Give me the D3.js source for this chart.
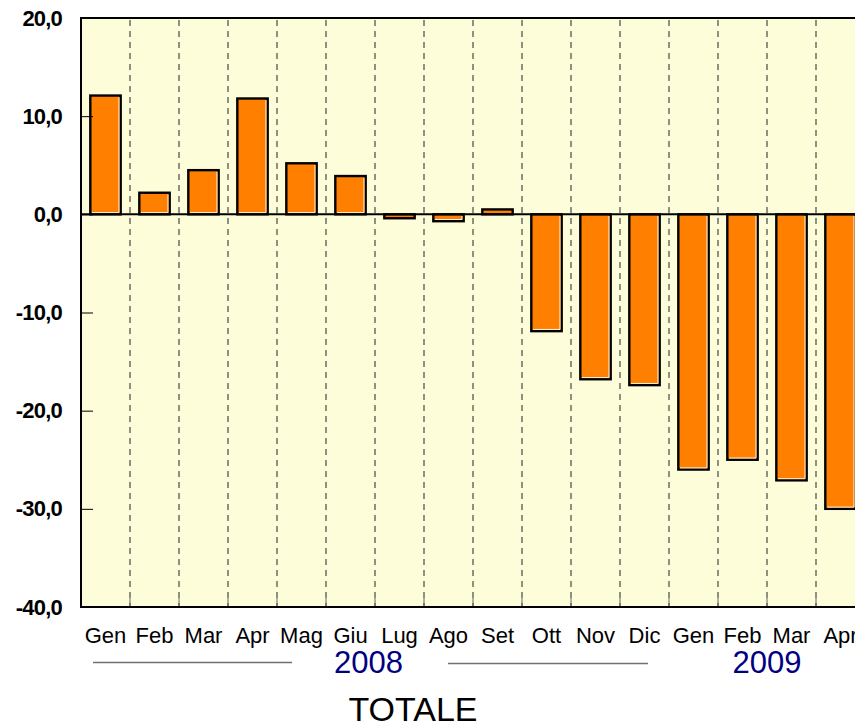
<!DOCTYPE html>
<html>
<head>
<meta charset="utf-8">
<script src="https://cdnjs.cloudflare.com/ajax/libs/d3/7.8.5/d3.min.js"></script>
<style>
  body { margin: 0; background: #fff; }
  svg { display: block; font-family: "Liberation Sans", Arial, sans-serif; }
</style>
</head>
<body>
<svg id="chart" width="855" height="727"></svg>
<script>
"use strict";

// month labels, 2008 then 2009
var months = ['Gen', 'Feb', 'Mar', 'Apr', 'Mag', 'Giu', 'Lug', 'Ago', 'Set', 'Ott', 'Nov', 'Dic',
              'Gen', 'Feb', 'Mar', 'Apr'];
var values = [12.1, 2.2, 4.5, 11.8, 5.2, 3.9, -0.4, -0.7, 0.5, -11.9, -16.8, -17.4,
              -26.0, -25.0, -27.1, -30.0];
var years = [ { label: '2008', first: 0, last: 11 }, { label: '2009', first: 12, last: 15 } ];
var yTicks = [20, 10, 0, -10, -20, -30, -40];

(function() {

var svg = d3.select('#chart');

var plotLeft = 81, plotTop = 18, plotBottom = 607;
var step = 49;

var x = d3.scaleBand()
    .domain(d3.range(months.length))
    .range([plotLeft, plotLeft + step * months.length])
    .paddingInner(0.38)
    .paddingOuter(0.19);

var y = d3.scaleLinear().domain([-40, 20]).range([plotBottom, plotTop]);

// plot background
svg.append('rect')
    .attr('x', plotLeft).attr('y', plotTop)
    .attr('width', 855 - plotLeft + 5).attr('height', plotBottom - plotTop)
    .attr('fill', '#fefdd9');

// dashed separators between months
var bounds = d3.range(1, months.length).map(function(i) { return plotLeft + step * i; });

svg.append('g').selectAll('line')
    .data(bounds)
    .enter().append('line')
        .attr('x1', function(d) { return d; })
        .attr('x2', function(d) { return d; })
        .attr('y1', plotTop + 2)
        .attr('y2', plotBottom)
        .attr('stroke', '#75756a')
        .attr('stroke-width', 1.6)
        .attr('stroke-dasharray', '6,5');

svg.append('g').selectAll('line')
    .data(bounds)
    .enter().append('line')
        .attr('x1', function(d) { return d; })
        .attr('x2', function(d) { return d; })
        .attr('y1', plotBottom - 9)
        .attr('y2', plotBottom)
        .attr('stroke', '#666')
        .attr('stroke-width', 1);

// bars
var bars = svg.append('g').selectAll('g.bar')
    .data(values)
    .enter().append('g').classed('bar', true);

bars.append('rect')
    .attr('x', function(d, i) { return x(i); })
    .attr('y', function(d) { return y(Math.max(0, d)); })
    .attr('width', x.bandwidth())
    .attr('height', function(d) { return Math.abs(y(d) - y(0)); })
    .attr('fill', '#ff8000')
    .attr('stroke', '#000')
    .attr('stroke-width', 2.4);

// light inner edge on the right and bottom
bars.append('path')
    .attr('d', function(d, i) {
        var x0 = x(i) + 1.7, x1 = x(i) + x.bandwidth() - 1.7;
        var y0 = y(Math.max(0, d)) + 1.7, y1 = y(Math.min(0, d)) - 1.7;
        if (y1 - y0 < 2) return null;
        return 'M' + x1 + ',' + y0 + 'L' + x1 + ',' + y1 + 'L' + x0 + ',' + y1;
    })
    .attr('fill', 'none')
    .attr('stroke', '#fff4dc')
    .attr('stroke-width', 1);

// zero line
svg.append('line')
    .attr('x1', plotLeft).attr('x2', 855)
    .attr('y1', y(0)).attr('y2', y(0))
    .attr('stroke', '#000').attr('stroke-width', 2);

// y axis
var yAxis = d3.axisLeft(y)
    .tickValues(yTicks)
    .tickSizeInner(-12)
    .tickSizeOuter(0)
    .tickPadding(19)
    .tickFormat(function(d) { return d3.format('.1f')(d).replace('.', ',').replace('\u2212', '-'); });

var gy = svg.append('g').attr('transform', 'translate(' + plotLeft + ',0)').call(yAxis);
gy.select('.domain').remove();
gy.selectAll('.tick line').attr('stroke', '#000');
gy.selectAll('.tick text')
    .attr('font-size', 22)
    .attr('font-weight', 'bold')
    .attr('letter-spacing', -0.8)
    .attr('fill', '#000')
    .attr('font-family', '"Liberation Sans", Arial, sans-serif');

// x axis labels
var xAxis = d3.axisBottom(x)
    .tickSize(0)
    .tickPadding(20)
    .tickFormat(function(i) { return months[i]; });

var gx = svg.append('g').attr('transform', 'translate(0,' + plotBottom + ')').call(xAxis);
gx.select('.domain').remove();
gx.selectAll('.tick text')
    .attr('font-size', 22)
    .attr('fill', '#000')
    .attr('font-family', '"Liberation Sans", Arial, sans-serif');

// frame (left, top, bottom)
svg.append('path')
    .attr('d', 'M857,' + plotTop + 'L' + plotLeft + ',' + plotTop + 'L' + plotLeft + ',' + plotBottom + 'L857,' + plotBottom)
    .attr('fill', 'none')
    .attr('stroke', '#000')
    .attr('stroke-width', 2);

// rule lines around 2008
var yrLines = [[93, 292, 662.5], [448, 648, 663.5]];

// year labels
var yearG = svg.append('g');
years.forEach(function(yr, k) {
    var half = x.step() * x.paddingInner() / 2;
    var cx = (x(yr.first) - half + x(yr.last) + x.bandwidth() + half) / 2;
    if (k === 0) cx = (yrLines[0][0] + yrLines[1][1]) / 2 - 2;
    yearG.append('text')
        .attr('x', cx)
        .attr('y', 673)
        .attr('text-anchor', 'middle')
        .attr('font-size', 31)
        .attr('fill', '#000080')
        .text(yr.label);
});

yearG.selectAll('line')
    .data(yrLines)
    .enter().append('line')
        .attr('x1', function(d) { return d[0]; })
        .attr('x2', function(d) { return d[1]; })
        .attr('y1', function(d) { return d[2]; })
        .attr('y2', function(d) { return d[2]; })
        .attr('stroke', '#707070')
        .attr('stroke-width', 1.5);

// title
svg.append('text')
    .attr('x', 413)
    .attr('y', 721)
    .attr('text-anchor', 'middle')
    .attr('font-size', 34)
    .attr('fill', '#000')
    .text('TOTALE');

})();
</script>
</body>
</html>
